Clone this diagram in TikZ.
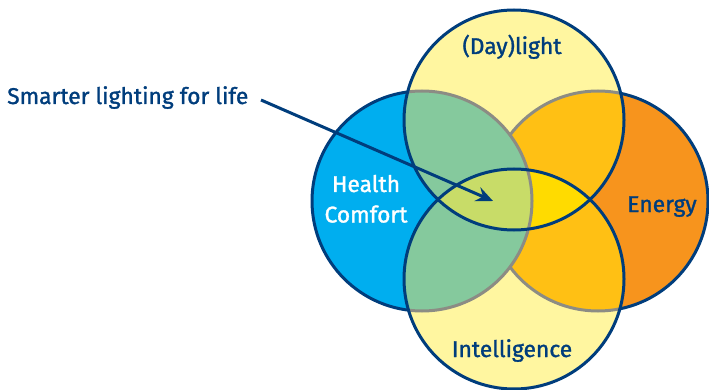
\documentclass[tikz,border=0pt]{standalone}
\usepackage{fontspec}
\setmainfont{Fira Sans}
\newfontfamily\medfont{Fira Sans}[FakeBold=1.3]
\usetikzlibrary{arrows.meta}
\definecolor{navy}{HTML}{003D7C}
\definecolor{cblue}{HTML}{00AEEF}
\definecolor{corange}{HTML}{F7941D}
\definecolor{cpale}{HTML}{FFF6A0}
\definecolor{cgreen}{HTML}{85C99D}
\definecolor{cgold}{HTML}{FFC014}
\definecolor{cyg}{HTML}{C8DC68}
\definecolor{cbright}{HTML}{FFDB00}
\definecolor{cgray}{HTML}{8C8C84}
\tikzset{
  ring/.style={line width=3pt},
  lbl/.style={font=\medfont\fontsize{22.8}{24}\selectfont, anchor=base, inner sep=0pt},
}
\begin{document}
\begin{tikzpicture}[x=1pt,y=-1pt]
\useasboundingbox (0,0) rectangle (709,390);
\coordinate (T) at (514,120);
\coordinate (B) at (514,279);
\coordinate (L) at (422,201);
\coordinate (R) at (598,201);
\def\rr{110pt}
% base fills
\fill[corange] (R) circle[radius=\rr];
\draw[ring,navy] (R) circle[radius=\rr];
\fill[cblue] (L) circle[radius=\rr];
\draw[ring,navy] (L) circle[radius=\rr];
\fill[cpale] (T) circle[radius=\rr];
\fill[cpale] (B) circle[radius=\rr];
% inside top or bottom
\begin{scope}
  \clip (T) circle[radius=\rr] (B) circle[radius=\rr];
  \fill[cgold] (R) circle[radius=\rr];
  \draw[ring,cgray] (R) circle[radius=\rr];
  \fill[cgreen] (L) circle[radius=\rr];
  \draw[ring,cgray] (L) circle[radius=\rr];
\end{scope}
% inside top and bottom
\begin{scope}
  \clip (T) circle[radius=\rr];
  \clip (B) circle[radius=\rr];
  \fill[cbright] (R) circle[radius=\rr];
  \fill[cyg] (L) circle[radius=\rr];
  \draw[ring,cgray] (L) circle[radius=\rr];
\end{scope}
\draw[ring,navy] (T) circle[radius=\rr];
\draw[ring,navy] (B) circle[radius=\rr];
% labels
\node[lbl,text=navy] (day) at (512,54) {(Day)light};
\node[lbl,text=white] (health) at (366,192) {Health};
\node[lbl,text=white] (comfort) at (366,222.5) {Comfort};
\node[lbl,text=navy] (energy) at (662,212) {Energy};
\node[lbl,text=navy] (intel) at (512,357) {Intelligence};
\node[lbl,text=navy,anchor=base west] (smart) at (7,104) {Smarter lighting for life};
% arrow
\coordinate (a0) at (261,100);
\coordinate (tip) at (493,201);
\draw[navy,line width=3pt,-{Stealth[length=17pt,width=15pt,inset=6pt]}] (a0) -- (tip);
\end{tikzpicture}
\end{document}
